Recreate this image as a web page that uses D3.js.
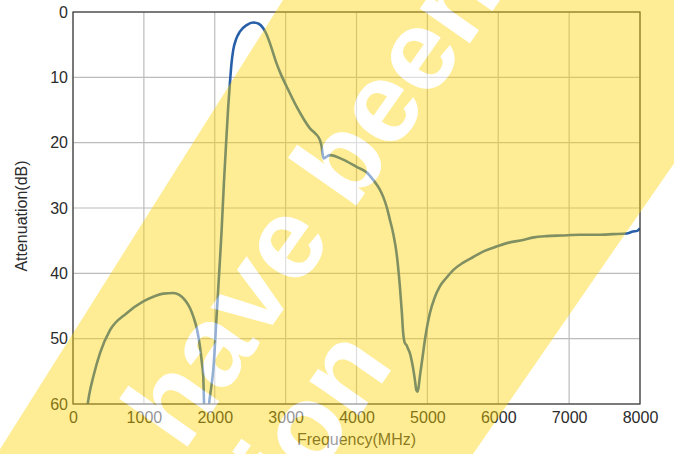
<!DOCTYPE html>
<html>
<head>
<meta charset="utf-8">
<script src="https://cdn.jsdelivr.net/npm/d3@7"></script>
<style>
  html, body { margin: 0; padding: 0; background: #fff; }
  svg { display: block; font-family: "Liberation Sans", Arial, Helvetica, sans-serif; }
</style>
</head>
<body>
<svg id="chart" width="674" height="454"></svg>
<script>
// ---- data ----
const freqMHz = [200, 230, 287, 381, 522, 757, 992, 1150, 1274, 1415, 1500, 1580, 1650, 1697, 1750, 1791, 1820, 1838, 1850, 1885, 1920, 1950, 1979, 2026, 2073, 2097, 2130, 2168, 2190, 2214, 2235, 2261, 2300, 2355, 2450, 2543, 2620, 2684, 2730, 2779, 2873, 2940, 3014, 3155, 3250, 3343, 3420, 3460, 3490, 3508, 3520, 3535, 3570, 3625, 3812, 4001, 4150, 4236, 4320, 4377, 4430, 4471, 4520, 4565, 4612, 4640, 4659, 4680, 4706, 4730, 4753, 4790, 4824, 4845, 4860, 4875, 4894, 4930, 4965, 5035, 5100, 5176, 5260, 5364, 5500, 5646, 5800, 5976, 6150, 6351, 6500, 6681, 6900, 7151, 7400, 7621, 7809, 7903, 7960, 8000];
const attenDB = [60.5, 58.5, 55.8, 52.2, 48.7, 46.1, 44.3, 43.5, 43.1, 43.0, 43.3, 44.1, 45.3, 46.6, 48.6, 51.2, 53.8, 55.8, 60.3, 66, 60.0, 57.5, 54.8, 46.6, 38, 33.4, 26, 18.6, 14.5, 10.9, 8, 5.8, 4.2, 3.0, 2.0, 1.6, 1.8, 2.5, 3.4, 4.8, 7.9, 9.7, 11.4, 14.5, 16.3, 17.8, 18.6, 19.1, 19.8, 20.6, 21.6, 22.4, 22.2, 21.9, 22.6, 23.7, 24.6, 25.7, 27, 28.3, 30, 31.8, 34, 36.9, 42, 46, 49.2, 50.6, 51.0, 51.6, 52.2, 54, 56.3, 57.9, 58.1, 57.5, 55.8, 53, 50.2, 46.1, 43.8, 42.0, 40.8, 39.5, 38.4, 37.5, 36.6, 35.9, 35.3, 34.9, 34.5, 34.3, 34.2, 34.1, 34.1, 34.0, 33.9, 33.6, 33.5, 33.1];
const xTicks = [0, 1000, 2000, 3000, 4000, 5000, 6000, 7000, 8000];
const yTicks = [0, 10, 20, 30, 40, 50, 60];
const xTitle = "Frequency(MHz)";
const yTitle = "Attenuation(dB)";
const watermarkLine1 = "have been";
const watermarkLine2 = "tion";

// ---- layout ----
const W = 674, H = 454;
const m = { left: 73, right: 34, top: 12, bottom: 50 };
const svg = d3.select("#chart");

const x = d3.scaleLinear().domain([0, 8000]).range([m.left, W - m.right]);
const y = d3.scaleLinear().domain([0, 60]).range([m.top, H - m.bottom]);

// grid
const g = svg.append("g");
g.selectAll(".vg").data(xTicks).join("line")
  .attr("x1", d => x(d)).attr("x2", d => x(d))
  .attr("y1", y(0)).attr("y2", y(60))
  .attr("stroke", "#bcbcbc").attr("stroke-width", 1.2);
g.selectAll(".hg").data(yTicks).join("line")
  .attr("x1", x(0)).attr("x2", x(8000))
  .attr("y1", d => y(d)).attr("y2", d => y(d))
  .attr("stroke", "#bcbcbc").attr("stroke-width", 1.2);

// clip
svg.append("clipPath").attr("id", "plotclip").append("rect")
  .attr("x", x(0)).attr("y", y(0))
  .attr("width", x(8000) - x(0)).attr("height", y(60) - y(0));

// curve
const data = freqMHz.map((f, i) => ({ f, a: attenDB[i] }));
const line = d3.line().x(d => x(d.f)).y(d => y(d.a)).curve(d3.curveMonotoneX);
svg.append("path").datum(data)
  .attr("clip-path", "url(#plotclip)")
  .attr("d", line)
  .attr("fill", "none")
  .attr("stroke", "#285fa9")
  .attr("stroke-width", 2.6)
  .attr("stroke-linejoin", "round");

// frame
svg.append("rect")
  .attr("x", x(0)).attr("y", y(0))
  .attr("width", x(8000) - x(0)).attr("height", y(60) - y(0))
  .attr("fill", "none").attr("stroke", "#3a3a3a").attr("stroke-width", 1.2);

// axes (labels only)
const xAxis = d3.axisBottom(x).tickValues(xTicks).tickSize(0).tickPadding(8).tickFormat(d3.format("d"));
const gx = svg.append("g").attr("transform", `translate(0,${y(60)})`).call(xAxis);
gx.select(".domain").remove();
gx.selectAll("text").attr("font-size", 16).attr("fill", "#2b2b2b").attr("font-family", null);

const yAxis = d3.axisLeft(y).tickValues(yTicks).tickSize(0).tickPadding(5);
const gy = svg.append("g").attr("transform", `translate(${x(0)},0)`).call(yAxis);
gy.select(".domain").remove();
gy.selectAll("text").attr("font-size", 16).attr("fill", "#2b2b2b").attr("font-family", null);

svg.append("text")
  .attr("x", (x(0) + x(8000)) / 2).attr("y", 445)
  .attr("text-anchor", "middle").attr("font-size", 16).attr("fill", "#3a3a3a")
  .text(xTitle);
svg.append("text")
  .attr("transform", `translate(27,${(y(0) + y(60)) / 2 + 8}) rotate(-90)`)
  .attr("text-anchor", "middle").attr("font-size", 16).attr("fill", "#2b2b2b")
  .text(yTitle);

// ---- watermark overlay ----
const wmTransform = "translate(183,453) rotate(-55)";
const defs = svg.append("defs");
const mask = defs.append("mask").attr("id", "wmmask")
  .attr("maskUnits", "userSpaceOnUse").attr("x", 0).attr("y", 0).attr("width", W).attr("height", H);
mask.append("rect").attr("x", 0).attr("y", 0).attr("width", W).attr("height", H).attr("fill", "#fff");
function addWmText(sel, fill) {
  const t = sel.append("g").attr("transform", wmTransform)
    .attr("font-size", 115).attr("font-weight", "bold").attr("fill", fill);
  t.append("text").attr("x", 0).attr("y", 0).attr("text-anchor", "start").text(watermarkLine1);
  t.append("text").attr("x", 194).attr("y", 123).attr("text-anchor", "end").text(watermarkLine2);
  return t;
}
addWmText(mask, "#000");

svg.append("polygon")
  .attr("points", "283,0 787,0 473,454 -3,454")
  .attr("fill", "#fcd400").attr("fill-opacity", 0.42)
  .attr("mask", "url(#wmmask)");
addWmText(svg, "#fff").attr("fill-opacity", 0.5);
</script>
</body>
</html>
